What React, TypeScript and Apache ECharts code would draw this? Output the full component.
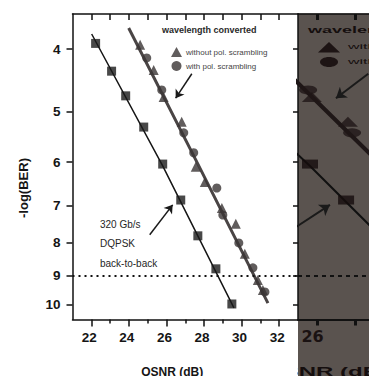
import React, { useEffect, useRef } from "react";
import * as echarts from "echarts";

// ---- data ----
const b2bOSNR = [22.23, 23.08, 23.83, 24.79, 25.8, 26.76, 27.67, 28.63, 29.48];
const b2bNegLogBER = [3.92, 4.33, 4.73, 5.29, 6.04, 6.87, 7.81, 8.79, 9.97];
const noScrOSNR = [24.6, 25.32, 25.85, 26.81, 27.56, 28.04, 28.95, 29.69, 30.17, 30.86, 31.13];
const noScrNegLogBER = [3.94, 4.31, 4.75, 5.19, 6.1, 6.44, 7.07, 7.48, 8.33, 9.15, 9.48];
const scrOSNR = [24.95, 25.75, 26.92, 27.45, 28.68, 29.0, 29.85, 30.6, 31.24];
const scrNegLogBER = [4.13, 4.63, 5.4, 5.8, 6.58, 7.25, 8.01, 8.76, 9.55];
const b2bFitOSNR = [22.02, 25.8, 29.59];
const b2bFitNegLogBER = [3.79, 6.08, 10.11];
const convFitOSNR = [23.99, 27.56, 31.4];
const convFitNegLogBER = [3.71, 5.95, 9.94];
const arrowFromOSNR = [25.11, 27.35];
const arrowFromNegLogBER = [7.78, 4.37];
const arrowToOSNR = [26.33, 26.49];
const arrowToNegLogBER = [6.99, 4.77];
const thresholdNegLogBER = 9;
const xTickLabels = [22, 24, 26, 28, 30, 32];
const xMinorTicks = [23, 25, 27, 29, 31];
const xTopTicks = [22, 23, 24, 25, 26, 27, 28, 29, 30, 31, 32];
const yTickLabels = [4, 5, 6, 7, 8, 9, 10];
const zoomTickLabels = [26];
const zoomTicks = [26, 27];

const SERIES_B2B = "320 Gb/s DQPSK back-to-back";
const SERIES_NOSCR = "without pol. scrambling";
const SERIES_SCR = "with pol. scrambling";

const FONT = "'Liberation Sans', Arial, sans-serif";

const zip = (xs: number[], ys: number[]) => xs.map((x, i) => [x, ys[i]]);

export default function App() {
  const ref = useRef<HTMLDivElement>(null);
  useEffect(() => {
    const chart = echarts.init(ref.current!, null, { renderer: "svg" });
    const arrows = arrowFromOSNR.map((x, i) => ({
      coords: [
        [x, arrowFromNegLogBER[i]],
        [arrowToOSNR[i], arrowToNegLogBER[i]],
      ],
    }));
    const yRange = { min: 3.528, max: 10.54 };
    const dark = "#1f1717";

    const seriesFor = (xi: number, yi: number, zoom: boolean) => [
      {
        type: "line",
        name: "b2b fit",
        xAxisIndex: xi,
        yAxisIndex: yi,
        data: zip(b2bFitOSNR, b2bFitNegLogBER),
        symbol: "none",
        lineStyle: { color: zoom ? "#111" : "#151515", width: zoom ? 2 : 1.5 },
        z: 2,
        clip: true,
      },
      {
        type: "line",
        name: "conv fit",
        xAxisIndex: xi,
        yAxisIndex: yi,
        data: zip(convFitOSNR, convFitNegLogBER),
        symbol: "none",
        lineStyle: { color: zoom ? dark : "#4a4545", width: zoom ? 4 : 3 },
        z: 2,
        clip: true,
      },
      {
        type: "scatter",
        name: SERIES_B2B,
        xAxisIndex: xi,
        yAxisIndex: yi,
        data: zip(b2bOSNR, b2bNegLogBER),
        symbol: "rect",
        symbolSize: zoom ? [16, 9] : 9,
        itemStyle: { color: zoom ? "#150d0d" : "#1a1a1a" },
        z: 3,
        clip: true,
        markLine: {
          silent: true,
          symbol: "none",
          label: { show: false },
          lineStyle: {
            color: "#111",
            width: 2,
            type: zoom ? [4, 4] : [2, 4],
          },
          data: [{ yAxis: thresholdNegLogBER }],
        },
      },
      {
        type: "scatter",
        name: SERIES_NOSCR,
        xAxisIndex: xi,
        yAxisIndex: yi,
        data: zip(noScrOSNR, noScrNegLogBER),
        symbol: "triangle",
        symbolSize: zoom ? [20, 10] : 10,
        itemStyle: { color: zoom ? dark : "#3a3434" },
        z: 3,
        clip: true,
      },
      {
        type: "scatter",
        name: SERIES_SCR,
        xAxisIndex: xi,
        yAxisIndex: yi,
        data: zip(scrOSNR, scrNegLogBER),
        symbol: "circle",
        symbolSize: zoom ? [18, 9] : 9,
        itemStyle: { color: zoom ? dark : "#3a3434" },
        z: 3,
        clip: true,
      },
      {
        type: "lines",
        name: "arrows",
        coordinateSystem: "cartesian2d",
        xAxisIndex: xi,
        yAxisIndex: yi,
        data: arrows,
        symbol: ["none", "arrow"],
        symbolSize: zoom ? [12, 10] : 8,
        lineStyle: { color: "#1a1a1a", width: zoom ? 2 : 1.5, opacity: 1 },
        z: 4,
        clip: true,
        silent: true,
      },
    ];

    const axisLine = { show: true, lineStyle: { color: "#111", width: 1.5 } };

    chart.setOption({
      animation: false,
      backgroundColor: "#ffffff",
      textStyle: { fontFamily: FONT },
      grid: [
        { left: 72.5, right: 71, top: 14, bottom: 56.5, show: false, outerBoundsMode: "none", containLabel: false },
        { left: 298, right: 0, top: 14, bottom: 56.5, show: false, outerBoundsMode: "none", containLabel: false },
      ],
      legend: {
        left: 166,
        top: 42,
        orient: "vertical",
        itemWidth: 11,
        itemHeight: 10,
        itemGap: 4,
        selectedMode: false,
        data: [
          { name: SERIES_NOSCR, icon: "triangle" },
          { name: SERIES_SCR, icon: "circle" },
        ],
        textStyle: { fontSize: 8, color: "#444", fontFamily: FONT, padding: [0, 0, 0, -1] },
      },
      xAxis: [
        {
          gridIndex: 0,
          type: "value",
          min: 21,
          max: 33,
          position: "bottom",
          axisLine,
          splitLine: { show: false },
          axisTick: { customValues: xTickLabels, length: 7, lineStyle: { color: "#111", width: 1.5 } },
          axisLabel: {
            customValues: xTickLabels,
            fontSize: 13.5,
            fontWeight: "bold",
            color: "#151515",
            margin: 11,
            fontFamily: FONT,
            padding: [0, 4, 0, 0],
          },
          name: "OSNR (dB)",
          nameLocation: "middle",
          nameGap: 46,
          nameTextStyle: {
            fontSize: 12,
            fontWeight: "bold",
            color: "#151515",
            fontFamily: FONT,
            padding: [0, 26, 0, 0],
          },
        },
        {
          gridIndex: 0,
          type: "value",
          min: 21,
          max: 33,
          position: "bottom",
          axisLine: { show: false },
          splitLine: { show: false },
          axisTick: { customValues: xMinorTicks, length: 4, lineStyle: { color: "#111", width: 1.5 } },
          axisLabel: { show: false },
        },
        {
          gridIndex: 0,
          type: "value",
          min: 21,
          max: 33,
          position: "top",
          axisLine,
          splitLine: { show: false },
          axisTick: { customValues: xTopTicks, inside: true, length: 6, lineStyle: { color: "#111", width: 1.5 } },
          axisLabel: { show: false },
        },
        {
          gridIndex: 1,
          type: "value",
          min: 25.48,
          max: 27.37,
          position: "bottom",
          axisLine: { show: true, lineStyle: { color: "#111", width: 2 } },
          splitLine: { show: false },
          axisTick: { customValues: zoomTicks, length: 6, lineStyle: { color: "#111", width: 3 } },
          axisLabel: {
            customValues: zoomTickLabels,
            fontSize: 16,
            fontWeight: "bold",
            color: "#1a1212",
            margin: 9,
            fontFamily: "'DejaVu Sans', sans-serif",
            padding: [0, 10, 0, 0],
          },
        },
        {
          gridIndex: 1,
          type: "value",
          min: 25.48,
          max: 27.37,
          position: "top",
          axisLine: { show: true, lineStyle: { color: "#111", width: 1.5 } },
          splitLine: { show: false },
          axisTick: { customValues: zoomTicks, inside: true, length: 6, lineStyle: { color: "#111", width: 3 } },
          axisLabel: { show: false },
        },
      ],
      yAxis: [
        {
          gridIndex: 0,
          type: "log",
          logBase: 10,
          ...yRange,
          inverse: true,
          axisLine,
          splitLine: { show: false },
          minorTick: { show: false },
          axisTick: { customValues: yTickLabels, length: 6, lineStyle: { color: "#111", width: 1.5 } },
          axisLabel: {
            customValues: yTickLabels,
            fontSize: 13.5,
            fontWeight: "bold",
            color: "#151515",
            margin: 12,
            fontFamily: FONT,
          },
        },
        {
          gridIndex: 0,
          type: "log",
          logBase: 10,
          ...yRange,
          inverse: true,
          position: "right",
          axisLine,
          splitLine: { show: false },
          axisTick: { customValues: yTickLabels, inside: true, length: 5, lineStyle: { color: "#111", width: 1.5 } },
          axisLabel: { show: false },
        },
        {
          gridIndex: 1,
          type: "log",
          logBase: 10,
          ...yRange,
          inverse: true,
          show: false,
        },
      ],
      series: [...seriesFor(0, 0, false), ...seriesFor(3, 2, true)],
      graphic: [
        { type: "rect", z: -5, shape: { x: 298, y: 13.5, width: 71, height: 363 }, style: { fill: "#5a534f" } },
        {
          type: "text",
          z: 10,
          x: 23,
          y: 188,
          rotation: Math.PI / 2,
          style: { text: "-log(BER)", font: `bold 13px ${FONT}`, fill: "#151515", textAlign: "center", textVerticalAlign: "middle" },
        },
        {
          type: "text",
          z: 10,
          x: 162,
          y: 30,
          style: { text: "wavelength converted", font: `bold 9px ${FONT}`, fill: "#2a2a2a", textAlign: "left", textVerticalAlign: "middle" },
        },
        {
          type: "text",
          z: 10,
          x: 100,
          y: 224,
          style: { text: "320 Gb/s", font: `10px ${FONT}`, fill: "#262626", textAlign: "left", textVerticalAlign: "middle" },
        },
        {
          type: "text",
          z: 10,
          x: 100,
          y: 243,
          style: { text: "DQPSK", font: `10px ${FONT}`, fill: "#262626", textAlign: "left", textVerticalAlign: "middle" },
        },
        {
          type: "text",
          z: 10,
          x: 100,
          y: 263,
          style: { text: "back-to-back", font: `10px ${FONT}`, fill: "#262626", textAlign: "left", textVerticalAlign: "middle" },
        },
        // zoomed (stretched) copy shown in the dark panel
        {
          type: "text",
          z: 10,
          x: 308,
          y: 30,
          scaleX: 2,
          style: { text: "wavelength converted", font: `bold 9px ${FONT}`, fill: "#150e0e", textAlign: "left", textVerticalAlign: "middle" },
        },
        { type: "polygon", z: 10, shape: { points: [[318, 52.5], [340, 52.5], [329, 42]] }, style: { fill: "#1d1414" } },
        { type: "ellipse", z: 10, shape: { cx: 329, cy: 62, rx: 9, ry: 5 }, style: { fill: "#1d1414" } },
        {
          type: "text",
          z: 10,
          x: 348,
          y: 46,
          scaleX: 2,
          style: { text: SERIES_NOSCR, font: `8px ${FONT}`, fill: "#150e0e", textAlign: "left", textVerticalAlign: "middle" },
        },
        {
          type: "text",
          z: 10,
          x: 348,
          y: 61,
          scaleX: 2,
          style: { text: SERIES_SCR, font: `8px ${FONT}`, fill: "#150e0e", textAlign: "left", textVerticalAlign: "middle" },
        },
        {
          type: "text",
          z: 10,
          x: 264,
          y: 366,
          scaleX: 2,
          style: { text: "OSNR (dB)", font: `bold 12px ${FONT}`, fill: "#150e0e", textAlign: "left", textVerticalAlign: "top" },
        },
        { type: "rect", z: 11, shape: { x: 230, y: 350, width: 67.5, height: 26 }, style: { fill: "#ffffff" } },
      ],
    });
    return () => chart.dispose();
  }, []);
  return (
    <div
      ref={ref}
      style={{ position: "fixed", left: 0, top: 0, width: 369, height: 376, background: "#fff" }}
    />
  );
}
